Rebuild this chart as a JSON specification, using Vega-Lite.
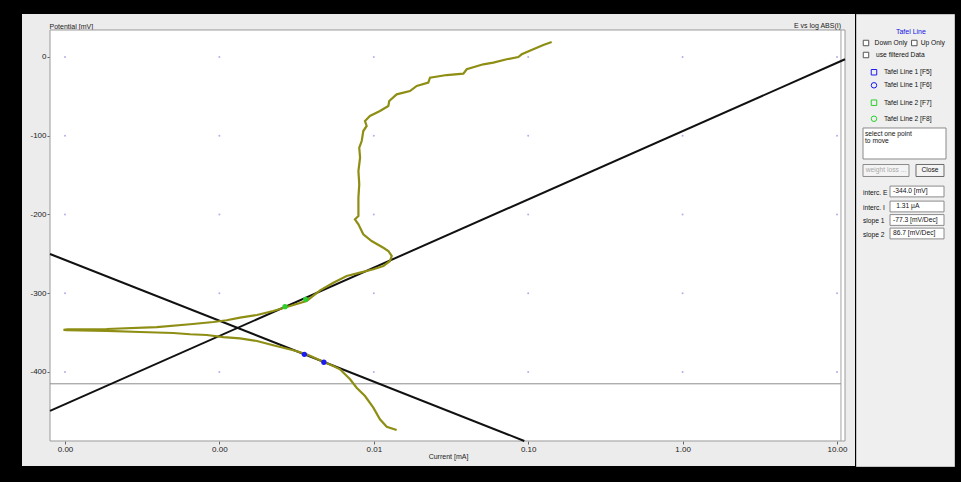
{
  "$schema": "https://vega.github.io/schema/vega-lite/v6.json",
  "background": "#000000",
  "padding": {"left": 22, "top": 13, "right": 8, "bottom": 17},
  "config": {
    "font": "Liberation Sans",
    "view": {"stroke": null},
    "concat": {"spacing": 0}
  },
  "spacing": 0,
  "datasets": {
    "scan": [
      {"seq": 1, "I": 0.01406, "E": -473.7},
      {"seq": 2, "I": 0.01213, "E": -469.5},
      {"seq": 3, "I": 0.01096, "E": -460.1},
      {"seq": 4, "I": 0.00993, "E": -445.3},
      {"seq": 5, "I": 0.00877, "E": -430.5},
      {"seq": 6, "I": 0.00774, "E": -419.9},
      {"seq": 7, "I": 0.00702, "E": -409.3},
      {"seq": 8, "I": 0.00604, "E": -396.6},
      {"seq": 9, "I": 0.00547, "E": -392.4},
      {"seq": 10, "I": 0.00471, "E": -386.9},
      {"seq": 11, "I": 0.00367, "E": -377.5},
      {"seq": 12, "I": 0.00301, "E": -372.4},
      {"seq": 13, "I": 0.00223, "E": -366.1},
      {"seq": 14, "I": 0.00175, "E": -360.6},
      {"seq": 15, "I": 0.00136, "E": -357.2},
      {"seq": 16, "I": 0.00106, "E": -355.6},
      {"seq": 17, "I": 0.000828, "E": -353.0},
      {"seq": 18, "I": 0.000646, "E": -352.1},
      {"seq": 19, "I": 0.000502, "E": -350.5},
      {"seq": 20, "I": 0.000306, "E": -349.2},
      {"seq": 21, "I": 0.000186, "E": -347.9},
      {"seq": 22, "I": 0.000103, "E": -347.0},
      {"seq": 23, "I": 0.0000978, "E": -346.5},
      {"seq": 24, "I": 0.000104, "E": -345.9},
      {"seq": 25, "I": 0.000186, "E": -345.4},
      {"seq": 26, "I": 0.000393, "E": -342.9},
      {"seq": 27, "I": 0.000646, "E": -339.4},
      {"seq": 28, "I": 0.000913, "E": -336.5},
      {"seq": 29, "I": 0.001114, "E": -334.3},
      {"seq": 30, "I": 0.00136, "E": -331.0},
      {"seq": 31, "I": 0.00175, "E": -327.6},
      {"seq": 32, "I": 0.00223, "E": -322.5},
      {"seq": 33, "I": 0.00273, "E": -317.5},
      {"seq": 34, "I": 0.00367, "E": -309.8},
      {"seq": 35, "I": 0.00449, "E": -296.3},
      {"seq": 36, "I": 0.00547, "E": -286.6},
      {"seq": 37, "I": 0.00667, "E": -278.1},
      {"seq": 38, "I": 0.00815, "E": -273.9},
      {"seq": 39, "I": 0.00993, "E": -269.6},
      {"seq": 40, "I": 0.01153, "E": -265.4},
      {"seq": 41, "I": 0.01274, "E": -259.0},
      {"seq": 42, "I": 0.01306, "E": -252.7},
      {"seq": 43, "I": 0.01242, "E": -246.3},
      {"seq": 44, "I": 0.01153, "E": -242.2},
      {"seq": 45, "I": 0.00968, "E": -233.7},
      {"seq": 46, "I": 0.00855, "E": -225.1},
      {"seq": 47, "I": 0.00795, "E": -212.4},
      {"seq": 48, "I": 0.00755, "E": -206.1},
      {"seq": 49, "I": 0.00795, "E": -201.9},
      {"seq": 50, "I": 0.00795, "E": -195.6},
      {"seq": 51, "I": 0.00795, "E": -178.7},
      {"seq": 52, "I": 0.00805, "E": -161.7},
      {"seq": 53, "I": 0.00795, "E": -144.8},
      {"seq": 54, "I": 0.00815, "E": -127.9},
      {"seq": 55, "I": 0.00805, "E": -115.2},
      {"seq": 56, "I": 0.00835, "E": -106.7},
      {"seq": 57, "I": 0.00855, "E": -94.0},
      {"seq": 58, "I": 0.00899, "E": -87.6},
      {"seq": 59, "I": 0.00877, "E": -81.3},
      {"seq": 60, "I": 0.00944, "E": -74.9},
      {"seq": 61, "I": 0.01096, "E": -68.6},
      {"seq": 62, "I": 0.01242, "E": -62.2},
      {"seq": 63, "I": 0.01259, "E": -55.9},
      {"seq": 64, "I": 0.01406, "E": -47.4},
      {"seq": 65, "I": 0.01714, "E": -43.2},
      {"seq": 66, "I": 0.01897, "E": -36.8},
      {"seq": 67, "I": 0.02254, "E": -32.6},
      {"seq": 68, "I": 0.02312, "E": -26.3},
      {"seq": 69, "I": 0.02965, "E": -22.9},
      {"seq": 70, "I": 0.03802, "E": -21.2},
      {"seq": 71, "I": 0.03999, "E": -15.6},
      {"seq": 72, "I": 0.05117, "E": -9.3},
      {"seq": 73, "I": 0.05943, "E": -7.2},
      {"seq": 74, "I": 0.07261, "E": -2.9},
      {"seq": 75, "I": 0.0863, "E": 0.0},
      {"seq": 76, "I": 0.09078, "E": 3.4},
      {"seq": 77, "I": 0.1079, "E": 9.8},
      {"seq": 78, "I": 0.1253, "E": 15.2},
      {"seq": 79, "I": 0.1419, "E": 19.0}
    ],
    "tafel": [
      {"line": "Tafel Line 1", "I": 0.00007996, "E": -250.1},
      {"line": "Tafel Line 1", "I": 0.0944, "E": -487.6},
      {"line": "Tafel Line 2", "I": 0.00007996, "E": -449.3},
      {"line": "Tafel Line 2", "I": 11.27, "E": -2.9}
    ],
    "picks": [
      {"line": "Tafel Line 1", "I": 0.00355, "E": -377.5},
      {"line": "Tafel Line 1", "I": 0.00475, "E": -387.6},
      {"line": "Tafel Line 2", "I": 0.00266, "E": -317.1},
      {"line": "Tafel Line 2", "I": 0.00362, "E": -307.7}
    ],
    "grid": [
      {"I": 0.0001, "E": 0}, {"I": 0.001, "E": 0}, {"I": 0.01, "E": 0}, {"I": 0.1, "E": 0}, {"I": 1, "E": 0}, {"I": 10, "E": 0},
      {"I": 0.0001, "E": -100}, {"I": 0.001, "E": -100}, {"I": 0.01, "E": -100}, {"I": 0.1, "E": -100}, {"I": 1, "E": -100}, {"I": 10, "E": -100},
      {"I": 0.0001, "E": -200}, {"I": 0.001, "E": -200}, {"I": 0.01, "E": -200}, {"I": 0.1, "E": -200}, {"I": 1, "E": -200}, {"I": 10, "E": -200},
      {"I": 0.0001, "E": -300}, {"I": 0.001, "E": -300}, {"I": 0.01, "E": -300}, {"I": 0.1, "E": -300}, {"I": 1, "E": -300}, {"I": 10, "E": -300},
      {"I": 0.0001, "E": -400}, {"I": 0.001, "E": -400}, {"I": 0.01, "E": -400}, {"I": 0.1, "E": -400}, {"I": 1, "E": -400}, {"I": 10, "E": -400}
    ]
  },
  "hconcat": [
    {
      "width": 833,
      "height": 452,
      "view": {"fill": "#ececec", "stroke": null},
      "title": {
        "text": "E vs log ABS(I)",
        "anchor": "end",
        "frame": "group",
        "orient": "top",
        "offset": -15,
        "dx": -14,
        "fontSize": 7,
        "fontWeight": "normal",
        "color": "#222222"
      },
      "layer": [
        {
          "data": {"values": [{}]},
          "mark": {"type": "rect", "fill": "#ffffff", "stroke": "#9a9a9a", "strokeWidth": 1},
          "encoding": {
            "x": {
              "datum": 0.00007996,
              "type": "quantitative",
              "scale": {"type": "log", "domain": [0.00005266, 13.08], "nice": false, "zero": false},
              "axis": {
                "orient": "bottom",
                "offset": -25,
                "values": [0.0001, 0.001, 0.01, 0.1, 1, 10],
                "format": ".2f",
                "domain": false,
                "grid": false,
                "tickSize": 3,
                "tickColor": "#666666",
                "labelFontSize": 8,
                "labelColor": "#222222",
                "labelPadding": 1,
                "labelFlush": false,
                "labelOverlap": false,
                "title": "Current [mA]",
                "titleFontSize": 7,
                "titleFontWeight": "normal",
                "titleColor": "#222222",
                "titleX": 426,
                "titleY": 15,
                "titleAlign": "center",
                "titleBaseline": "middle"
              }
            },
            "x2": {"datum": 11.27},
            "y": {
              "datum": -487.62,
              "type": "quantitative",
              "scale": {"domain": [-519.37, 54.6], "nice": false, "zero": false},
              "axis": {
                "orient": "left",
                "offset": -28,
                "values": [0, -100, -200, -300, -400],
                "labelExpr": "toString(datum.value)",
                "domain": false,
                "grid": false,
                "tickSize": 3,
                "tickColor": "#666666",
                "labelFontSize": 8,
                "labelColor": "#222222",
                "labelPadding": 1,
                "title": "Potential [mV]",
                "titleAngle": 0,
                "titleX": -1,
                "titleY": 12,
                "titleAlign": "left",
                "titleBaseline": "middle",
                "titleFontSize": 7,
                "titleFontWeight": "normal",
                "titleColor": "#222222"
              }
            },
            "y2": {"datum": 34.29}
          }
        },
        {
          "data": {"values": [{}]},
          "mark": {"type": "rule", "color": "#a4a4a4", "strokeWidth": 1},
          "encoding": {
            "x": {"datum": 10.61, "type": "quantitative", "scale": {"type": "log", "domain": [0.00005266, 13.08], "nice": false, "zero": false}},
            "y": {"datum": -487.62, "type": "quantitative", "scale": {"domain": [-519.37, 54.6], "nice": false, "zero": false}},
            "y2": {"datum": 34.29}
          }
        },
        {
          "data": {"values": [{}]},
          "mark": {"type": "rule", "color": "#8c8c8c", "strokeWidth": 1},
          "encoding": {
            "x": {"datum": 0.00007996, "type": "quantitative", "scale": {"type": "log", "domain": [0.00005266, 13.08], "nice": false, "zero": false}},
            "x2": {"datum": 10.61},
            "y": {"datum": -415, "type": "quantitative", "scale": {"domain": [-519.37, 54.6], "nice": false, "zero": false}}
          }
        },
        {
          "data": {"name": "grid"},
          "mark": {"type": "point", "filled": true, "size": 4, "color": "#b0b0ec", "opacity": 1},
          "encoding": {
            "x": {"field": "I", "type": "quantitative", "scale": {"type": "log", "domain": [0.00005266, 13.08], "nice": false, "zero": false}},
            "y": {"field": "E", "type": "quantitative", "scale": {"domain": [-519.37, 54.6], "nice": false, "zero": false}}
          }
        },
        {
          "data": {"name": "tafel"},
          "mark": {"type": "line", "color": "#111111", "strokeWidth": 2},
          "encoding": {
            "x": {"field": "I", "type": "quantitative", "scale": {"type": "log", "domain": [0.00005266, 13.08], "nice": false, "zero": false}},
            "y": {"field": "E", "type": "quantitative", "scale": {"domain": [-519.37, 54.6], "nice": false, "zero": false}},
            "detail": {"field": "line"}
          }
        },
        {
          "data": {"name": "scan"},
          "mark": {"type": "line", "color": "#8e8e14", "strokeWidth": 2.2},
          "encoding": {
            "x": {"field": "I", "type": "quantitative", "scale": {"type": "log", "domain": [0.00005266, 13.08], "nice": false, "zero": false}},
            "y": {"field": "E", "type": "quantitative", "scale": {"domain": [-519.37, 54.6], "nice": false, "zero": false}},
            "order": {"field": "seq"}
          }
        },
        {
          "data": {"name": "picks"},
          "mark": {"type": "point", "filled": true, "size": 28, "opacity": 1},
          "encoding": {
            "x": {"field": "I", "type": "quantitative", "scale": {"type": "log", "domain": [0.00005266, 13.08], "nice": false, "zero": false}},
            "y": {"field": "E", "type": "quantitative", "scale": {"domain": [-519.37, 54.6], "nice": false, "zero": false}},
            "color": {"field": "line", "type": "nominal", "scale": {"domain": ["Tafel Line 1", "Tafel Line 2"], "range": ["#1c1cf0", "#2ccf2c"]}, "legend": null}
          }
        }
      ]
    },
    {
      "width": 98,
      "height": 452,
      "view": {"fill": "#efefef", "stroke": "#c4c4c4"},
      "layer": [
        {
          "data": {"values": [{"row": 7.7, "col": 9.9}]},
          "mark": {"type": "point", "shape": "M-1,-0.3735H1V0.3735H-1Z", "size": 6889, "fill": "#ffffff", "stroke": "#8a8a8a", "strokeWidth": 1, "opacity": 1},
          "encoding": {
            "x": {"field": "col", "type": "quantitative", "scale": {"domain": [0, 20], "nice": false, "zero": false}, "axis": null},
            "y": {"field": "row", "type": "quantitative", "scale": {"domain": [-0.9333, 29.2], "nice": false, "zero": false, "reverse": true}, "axis": null}
          }
        },
        {
          "data": {"values": [{"row": 10.9, "col": 12.45}, {"row": 11.9, "col": 12.45}, {"row": 12.8, "col": 12.45}, {"row": 13.7, "col": 12.45}]},
          "mark": {"type": "point", "shape": "M-1,-0.2H1V0.2H-1Z", "size": 2916, "fill": "#ffffff", "stroke": "#8a8a8a", "strokeWidth": 1, "opacity": 1},
          "encoding": {
            "x": {"field": "col", "type": "quantitative", "scale": {"domain": [0, 20], "nice": false, "zero": false}, "axis": null},
            "y": {"field": "row", "type": "quantitative", "scale": {"domain": [-0.9333, 29.2], "nice": false, "zero": false, "reverse": true}, "axis": null}
          }
        },
        {
          "data": {"values": [{"row": 9.5, "col": 6.12}]},
          "mark": {"type": "point", "shape": "M-1,-0.26H1V0.26H-1Z", "size": 2116, "fill": "#f4f4f4", "stroke": "#8c8c8c", "strokeWidth": 1, "opacity": 1},
          "encoding": {
            "x": {"field": "col", "type": "quantitative", "scale": {"domain": [0, 20], "nice": false, "zero": false}, "axis": null},
            "y": {"field": "row", "type": "quantitative", "scale": {"domain": [-0.9333, 29.2], "nice": false, "zero": false, "reverse": true}, "axis": null}
          }
        },
        {
          "data": {"values": [{"row": 9.5, "col": 15.1}]},
          "mark": {"type": "point", "shape": "M-1,-0.4286H1V0.4286H-1Z", "size": 784, "fill": "#f4f4f4", "stroke": "#6c6c6c", "strokeWidth": 1, "opacity": 1},
          "encoding": {
            "x": {"field": "col", "type": "quantitative", "scale": {"domain": [0, 20], "nice": false, "zero": false}, "axis": null},
            "y": {"field": "row", "type": "quantitative", "scale": {"domain": [-0.9333, 29.2], "nice": false, "zero": false, "reverse": true}, "axis": null}
          }
        },
        {
          "data": {"values": [{"row": 1, "col": 2.04}, {"row": 1, "col": 11.9}, {"row": 1.8, "col": 2.04}]},
          "mark": {"type": "point", "shape": "square", "size": 30, "fill": "#ffffff", "stroke": "#555555", "strokeWidth": 1, "opacity": 1},
          "encoding": {
            "x": {"field": "col", "type": "quantitative", "scale": {"domain": [0, 20], "nice": false, "zero": false}, "axis": null},
            "y": {"field": "row", "type": "quantitative", "scale": {"domain": [-0.9333, 29.2], "nice": false, "zero": false, "reverse": true}, "axis": null}
          }
        },
        {
          "data": {"values": [{"row": 2.95, "col": 3.67, "line": "Tafel Line 1"}, {"row": 4.98, "col": 3.67, "line": "Tafel Line 2"}]},
          "mark": {"type": "point", "shape": "square", "size": 30, "filled": false, "strokeWidth": 1, "opacity": 1},
          "encoding": {
            "x": {"field": "col", "type": "quantitative", "scale": {"domain": [0, 20], "nice": false, "zero": false}, "axis": null},
            "y": {"field": "row", "type": "quantitative", "scale": {"domain": [-0.9333, 29.2], "nice": false, "zero": false, "reverse": true}, "axis": null},
            "color": {"field": "line", "type": "nominal", "scale": {"domain": ["Tafel Line 1", "Tafel Line 2"], "range": ["#3a3aff", "#36d636"]}, "legend": null}
          }
        },
        {
          "data": {"values": [{"row": 3.82, "col": 3.67, "line": "Tafel Line 1"}, {"row": 6.05, "col": 3.67, "line": "Tafel Line 2"}]},
          "mark": {"type": "point", "shape": "circle", "size": 30, "filled": false, "strokeWidth": 1, "opacity": 1},
          "encoding": {
            "x": {"field": "col", "type": "quantitative", "scale": {"domain": [0, 20], "nice": false, "zero": false}, "axis": null},
            "y": {"field": "row", "type": "quantitative", "scale": {"domain": [-0.9333, 29.2], "nice": false, "zero": false, "reverse": true}, "axis": null},
            "color": {"field": "line", "type": "nominal", "scale": {"domain": ["Tafel Line 1", "Tafel Line 2"], "range": ["#3a3aff", "#36d636"]}, "legend": null}
          }
        },
        {
          "data": {"values": [{"row": 0.3, "col": 11.2, "text": "Tafel Line"}]},
          "mark": {"type": "text", "align": "center", "baseline": "middle", "fontSize": 7, "color": "#1414e6"},
          "encoding": {
            "x": {"field": "col", "type": "quantitative", "scale": {"domain": [0, 20], "nice": false, "zero": false}, "axis": null},
            "y": {"field": "row", "type": "quantitative", "scale": {"domain": [-0.9333, 29.2], "nice": false, "zero": false, "reverse": true}, "axis": null},
            "text": {"field": "text"}
          }
        },
        {
          "data": {"values": [
            {"row": 1, "col": 3.8, "text": "Down Only"},
            {"row": 1, "col": 13.2, "text": "Up Only"},
            {"row": 1.8, "col": 4.08, "text": "use filtered Data"},
            {"row": 2.95, "col": 5.71, "text": "Tafel Line 1 [F5]"},
            {"row": 3.82, "col": 5.71, "text": "Tafel Line 1 [F6]"},
            {"row": 4.98, "col": 5.71, "text": "Tafel Line 2 [F7]"},
            {"row": 6.05, "col": 5.71, "text": "Tafel Line 2 [F8]"},
            {"row": 7.1, "col": 1.84, "text": "select one point"},
            {"row": 7.55, "col": 1.84, "text": "to move"},
            {"row": 11, "col": 1.43, "text": "interc. E"},
            {"row": 12, "col": 1.43, "text": "interc. I"},
            {"row": 12.9, "col": 1.43, "text": "slope 1"},
            {"row": 13.8, "col": 1.43, "text": "slope 2"},
            {"row": 10.9, "col": 7.55, "text": "-344.0 [mV]"},
            {"row": 11.9, "col": 8.2, "text": "1.31 µA"},
            {"row": 12.8, "col": 7.55, "text": "-77.3 [mV/Dec]"},
            {"row": 13.7, "col": 7.55, "text": "86.7 [mV/Dec]"}
          ]},
          "mark": {"type": "text", "align": "left", "baseline": "middle", "fontSize": 6.7, "color": "#111111"},
          "encoding": {
            "x": {"field": "col", "type": "quantitative", "scale": {"domain": [0, 20], "nice": false, "zero": false}, "axis": null},
            "y": {"field": "row", "type": "quantitative", "scale": {"domain": [-0.9333, 29.2], "nice": false, "zero": false, "reverse": true}, "axis": null},
            "text": {"field": "text"}
          }
        },
        {
          "data": {"values": [{"row": 9.5, "col": 6.12, "text": "weight loss ..."}]},
          "mark": {"type": "text", "align": "center", "baseline": "middle", "fontSize": 6.7, "color": "#a8a8a8"},
          "encoding": {
            "x": {"field": "col", "type": "quantitative", "scale": {"domain": [0, 20], "nice": false, "zero": false}, "axis": null},
            "y": {"field": "row", "type": "quantitative", "scale": {"domain": [-0.9333, 29.2], "nice": false, "zero": false, "reverse": true}, "axis": null},
            "text": {"field": "text"}
          }
        },
        {
          "data": {"values": [{"row": 9.5, "col": 15.1, "text": "Close"}]},
          "mark": {"type": "text", "align": "center", "baseline": "middle", "fontSize": 6.7, "color": "#111111"},
          "encoding": {
            "x": {"field": "col", "type": "quantitative", "scale": {"domain": [0, 20], "nice": false, "zero": false}, "axis": null},
            "y": {"field": "row", "type": "quantitative", "scale": {"domain": [-0.9333, 29.2], "nice": false, "zero": false, "reverse": true}, "axis": null},
            "text": {"field": "text"}
          }
        }
      ]
    }
  ]
}
